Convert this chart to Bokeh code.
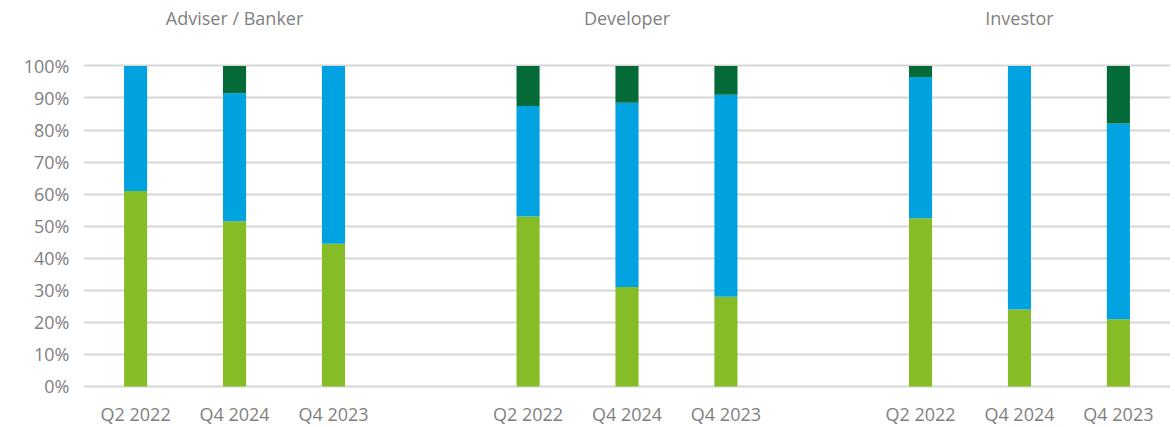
from bokeh.plotting import figure
from bokeh.models import FactorRange, Range1d, FixedTicker, ColumnDataSource, CustomJSTickFormatter
from bokeh.core.properties import value
from bokeh.embed import file_html
from bokeh.resources import INLINE

groups = ["Adviser / Banker", "Developer", "Investor"]
quarters = ["Q2 2022", "Q4 2024", "Q4 2023"]
series = ["green", "blue", "darkgreen"]
colors = ["#86BC25", "#00A3E0", "#046A38"]

# values per bar, order: Adviser(Q2 2022, Q4 2024, Q4 2023), Developer(...), Investor(...)
green = [61, 51.5, 44.5, 53, 31, 28, 52.5, 24, 21]
blue = [39, 40, 55.5, 34.5, 57.5, 63, 44, 76, 61]
darkgreen = [0, 8.5, 0, 12.5, 11.5, 9, 3.5, 0, 18]

y_ticks = [0, 10, 20, 30, 40, 50, 60, 70, 80, 90, 100]

factors = [(g, q) for g in groups for q in quarters]
source = ColumnDataSource(dict(x=factors, green=green, blue=blue, darkgreen=darkgreen))

FONT = "Open Sans"
GREY = "#7f7f7f"

x_range = FactorRange(*factors, factor_padding=0.5, group_padding=1.95,
                      range_padding=0.29, range_padding_units="absolute")

Y_TOP = 120.4
Y_BOTTOM = -12.8
p = figure(x_range=x_range, y_range=Range1d(Y_BOTTOM, Y_TOP), width=1172, height=427,
           output_backend="svg", toolbar_location=None,
           min_border_left=83, min_border_right=2, min_border_top=0, min_border_bottom=0)

p.vbar_stack(series, x="x", width=0.35, source=source, color=colors, line_width=0)

# group titles above the bars
p.text(x=groups, y=[114.8] * len(groups), text=groups, text_align="center", text_baseline="middle",
       text_font=value(FONT), text_font_size="18px", text_color=GREY)

# quarter labels below the bars
p.text(x=factors, y=[-8.6] * len(factors), text=[f[1] for f in factors],
       text_align="center", text_baseline="middle",
       text_font=value(FONT), text_font_size="18px", text_color=GREY)

p.outline_line_color = None
p.xgrid.grid_line_color = None
p.ygrid.grid_line_color = "#d6d6d6"
p.ygrid.grid_line_width = 2
p.xaxis.visible = False

p.yaxis.ticker = FixedTicker(ticks=y_ticks)
p.yaxis.formatter = CustomJSTickFormatter(code="return tick + '%';")
p.yaxis.axis_line_color = None
p.yaxis.major_tick_line_color = None
p.yaxis.minor_tick_line_color = None
p.yaxis.major_label_text_font = FONT
p.yaxis.major_label_text_font_size = "18px"
p.yaxis.major_label_text_color = GREY
p.yaxis.major_label_standoff = 8

open("out.html", "w").write(file_html(p, INLINE))
